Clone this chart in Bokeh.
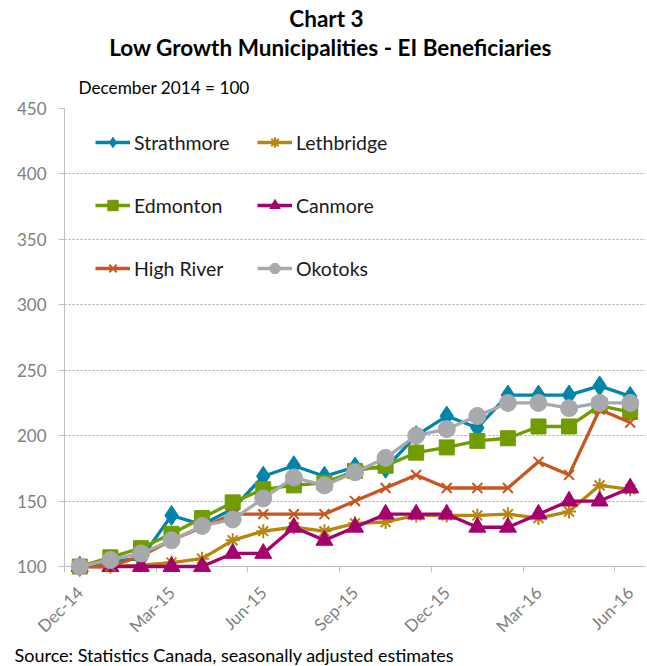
from bokeh.plotting import figure
from bokeh.models import Range1d, FixedTicker, Legend, LegendItem
from bokeh.core.properties import value
from bokeh.embed import file_html
from bokeh.resources import INLINE

months = ["Dec-14", "Jan-15", "Feb-15", "Mar-15", "Apr-15", "May-15", "Jun-15",
          "Jul-15", "Aug-15", "Sep-15", "Oct-15", "Nov-15", "Dec-15", "Jan-16",
          "Feb-16", "Mar-16", "Apr-16", "May-16", "Jun-16"]
tick_months = ["Dec-14", "Mar-15", "Jun-15", "Sep-15", "Dec-15", "Mar-16", "Jun-16"]

strathmore = [100, 104, 106, 139, 132, 144, 169, 177, 169, 176, 175, 200, 215, 206, 231, 231, 231, 238, 230]
lethbridge = [100, 100, 101, 103, 106, 120, 127, 130, 127, 133, 134, 139, 139, 139, 140, 137, 142, 162, 159]
edmonton = [100, 107, 114, 125, 137, 149, 159, 162, 164, 173, 177, 187, 191, 196, 198, 207, 207, 223, 218]
canmore = [100, 100, 100, 100, 100, 110, 110, 130, 120, 130, 140, 140, 140, 130, 130, 140, 150, 150, 160]
high_river = [100, 100, 108, 120, 130, 140, 140, 140, 140, 150, 160, 170, 160, 160, 160, 180, 170, 220, 210]
okotoks = [100, 105, 110, 120, 131, 136, 152, 168, 162, 172, 183, 200, 205, 215, 225, 225, 221, 225, 225]

y_ticks = [100, 150, 200, 250, 300, 350, 400, 450]

FONT = "Lato"
W, H = 647, 666
LEFT, RIGHT, TOP, BOTTOM = 64, 2, 108, 100
xs = list(range(len(months)))
X0, X1 = -0.5, len(months) - 0.5
Y0, Y1 = 100, 450

p = figure(width=W, height=H, output_backend="svg", toolbar_location=None,
           x_range=Range1d(X0, X1), y_range=Range1d(Y0, Y1),
           min_border_left=LEFT, min_border_right=RIGHT, min_border_top=TOP,
           min_border_bottom=BOTTOM)
p.outline_line_color = None
p.background_fill_color = "white"
p.border_fill_color = "white"

# axes
xa = p.xaxis[0]
major = [months.index(m) for m in tick_months]
minor = [i - 0.5 for i in range(0, len(months) + 1, 3)]
xa.ticker = FixedTicker(ticks=major, minor_ticks=minor)
xa.major_label_overrides = {months.index(m): m for m in tick_months}
xa.major_label_orientation = 0.785398
xa.major_tick_out = 0
xa.major_tick_in = 0
xa.minor_tick_out = 6
xa.minor_tick_in = 0
xa.minor_tick_line_color = "#BFBFBF"
xa.axis_line_color = "#BFBFBF"
xa.major_label_text_color = "#808080"
xa.major_label_text_font = FONT
xa.major_label_text_font_size = "17px"
xa.major_label_standoff = 17

ya = p.yaxis[0]
ya.ticker = FixedTicker(ticks=y_ticks, minor_ticks=[])
ya.major_tick_out = 6
ya.major_tick_in = 0
ya.major_tick_line_color = "#BFBFBF"
ya.axis_line_color = "#BFBFBF"
ya.major_label_text_color = "#808080"
ya.major_label_text_font = FONT
ya.major_label_text_font_size = "17px"
ya.major_label_standoff = 12

p.xgrid.visible = False
p.ygrid.ticker = FixedTicker(ticks=y_ticks[1:])
p.ygrid.grid_line_color = "#A6A6A6"
p.ygrid.grid_line_dash = "2 2"
p.ygrid.grid_line_width = 1

series = [
    ("Strathmore", strathmore, "#0085AA", "diamond", 20, 1),
    ("Lethbridge", lethbridge, "#B5870E", "asterisk", 14, 2),
    ("Edmonton", edmonton, "#709C00", "square", 15, 1),
    ("Canmore", canmore, "#A6006C", "triangle", 17, 1),
    ("High River", high_river, "#C8561E", "x", 14, 2),
    ("Okotoks", okotoks, "#A7A9AC", "circle", 17, 1),
]

items = {}
for name, vals, color, marker, size, mlw in series:
    r1 = p.line(xs, vals, line_color=color, line_width=3.3, level="overlay")
    r2 = p.scatter(xs, vals, marker=marker, size=size, line_color=color,
                   fill_color=color, line_width=mlw, level="overlay")
    items[name] = LegendItem(label=name, renderers=[r1, r2])

def make_legend(names, x, y):
    lg = Legend(items=[items[n] for n in names], location=(x, y),
                orientation="vertical", glyph_width=35, glyph_height=26,
                label_height=26, spacing=37, label_standoff=4, padding=0,
                margin=0, background_fill_alpha=0, border_line_alpha=0,
                label_text_font=FONT, label_text_font_size="19.5px",
                label_text_color="#1A1A1A", label_text_baseline="middle")
    p.add_layout(lg, "center")

make_legend(["Strathmore", "Edmonton", "High River"], 31, 285)
make_legend(["Lethbridge", "Canmore", "Okotoks"], 193, 285)

# free texts placed through the plot's own scales (canvas px -> data)
fw = W - LEFT - RIGHT
fh = H - TOP - BOTTOM

def lab(text, cx, cy, size, bold=False, align="left"):
    dx = X0 + (cx - LEFT) / fw * (X1 - X0)
    dy = Y0 + (H - BOTTOM - cy) / fh * (Y1 - Y0)
    p.text(x=[dx], y=[dy], text=[text], text_font=value(FONT),
           text_font_size=size, text_font_style="bold" if bold else "normal",
           text_align=align, text_baseline="middle", text_color="black",
           level="overlay")

lab("Chart 3", 326, 18, "22.5px", bold=True, align="center")
lab("Low Growth Municipalities - EI Beneficiaries", 330, 47, "22.5px", bold=True, align="center")
lab("December 2014 = 100", 78, 87, "17.2px")
lab("Source: Statistics Canada, seasonally adjusted estimates", 14, 654, "18px")

open("out.html", "w").write(file_html(p, INLINE))
